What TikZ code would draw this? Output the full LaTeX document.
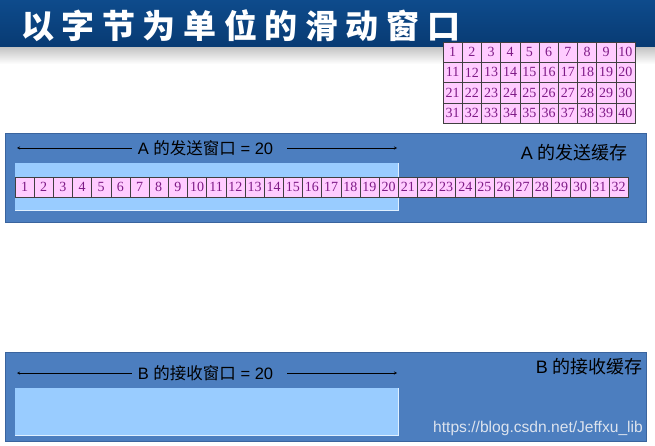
\documentclass[tikz,border=0pt]{standalone}
\usepackage{fontspec}
\setmainfont{Liberation Sans}
\newfontfamily\cjk{Noto Sans CJK SC}
\newfontfamily\titlefont[LetterSpace=23]{Noto Sans CJK SC}
\newfontfamily\numfont{Liberation Serif}
\definecolor{barblue}{HTML}{0E4B8C}
\definecolor{bardark}{HTML}{083A72}
\definecolor{panelblue}{HTML}{4C7EBF}
\definecolor{panelline}{HTML}{3A649E}
\definecolor{winblue}{HTML}{99CCFF}
\definecolor{cellpink}{HTML}{FFCCFF}
\definecolor{numpurple}{HTML}{7E1A86}
\definecolor{urlgray}{HTML}{DCE3EE}

\begin{document}
\begin{tikzpicture}[x=1pt, y=-1pt,
  cell/.style={draw=black!75, fill=cellpink, minimum width=19.2pt, minimum height=20.25pt,
    inner sep=0pt, text=numpurple, font=\numfont\fontsize{14}{14}\selectfont},
  panel/.style={draw=panelline, fill=panelblue, anchor=north west, inner sep=0pt,
    minimum width=641pt, minimum height=89pt},
  window/.style={fill=winblue, anchor=north west, inner sep=0pt,
    minimum width=383pt, minimum height=47pt},
  winlabel/.style={inner sep=6pt, font=\fontsize{16.5}{16.5}\selectfont},
  bufname/.style={anchor=east, inner sep=0pt, font=\fontsize{18}{18}\selectfont},
  winline/.style={->, >=stealth, thin}]
\useasboundingbox (0,0) rectangle (655,446);
\fill[white] (0,0) rectangle (655,446);

% title bar
\shade[top color=barblue, bottom color=bardark] (0,0) rectangle (655,48);
\shade[top color=black!22, bottom color=white] (0,48) rectangle (655,64);
\node[anchor=west, inner sep=0pt, text=white, font=\titlefont\bfseries\fontsize{33}{33}\selectfont]
  (title) at (21,26) {以字节为单位的滑动窗口};

% numbered bytes, 4 rows of 10
\foreach \r in {0,...,3}
  \foreach \c in {1,...,10} {
    \pgfmathtruncatemacro\n{10*\r+\c}
    \node[cell] (g\n) at ({443+19.2*(\c-0.5)},{42+20.25*(\r+0.5)}) {\n};
  }

% sender buffer
\node[panel] (bufA) at (5,133) {};
\node[window] (winA) at (15,163) {};
\draw[white!70!winblue, line width=1.2pt] (winA.south west) -- (winA.south east) -- (winA.north east);
\foreach \i in {1,...,32}
  \node[cell, minimum width=19.16pt, minimum height=20pt] (a\i) at ({15+19.16*(\i-0.5)},187) {\i};
\node[winlabel] (wlA) at (205.5,148) {A {\cjk 的发送窗口} = 20};
\coordinate (wlAl) at (17,148);
\coordinate (wlAr) at (397,148);
\draw[winline] (wlA) -- (wlAl);
\draw[winline, shorten <=8pt] (wlA) -- (wlAr);
\node[bufname] (nameA) at (628,153) {A {\cjk 的发送缓存}};

% receiver buffer
\node[panel] (bufB) at (5,352) {};
\node[window] (winB) at (15,388) {};
\draw[white!70!winblue, line width=1.2pt] (winB.south west) -- (winB.south east) -- (winB.north east);
\node[winlabel] (wlB) at (205.5,373) {B {\cjk 的接收窗口} = 20};
\coordinate (wlBl) at (17,373);
\coordinate (wlBr) at (397,373);
\draw[winline] (wlB) -- (wlBl);
\draw[winline, shorten <=8pt] (wlB) -- (wlBr);
\node[bufname] (nameB) at (643,367) {B {\cjk 的接收缓存}};
\node[anchor=east, inner sep=0pt, text=urlgray, font=\fontsize{15.6}{15.6}\selectfont]
  (url) at (643,428) {https://blog.csdn.net/Jeffxu\_lib};
\end{tikzpicture}
\end{document}
